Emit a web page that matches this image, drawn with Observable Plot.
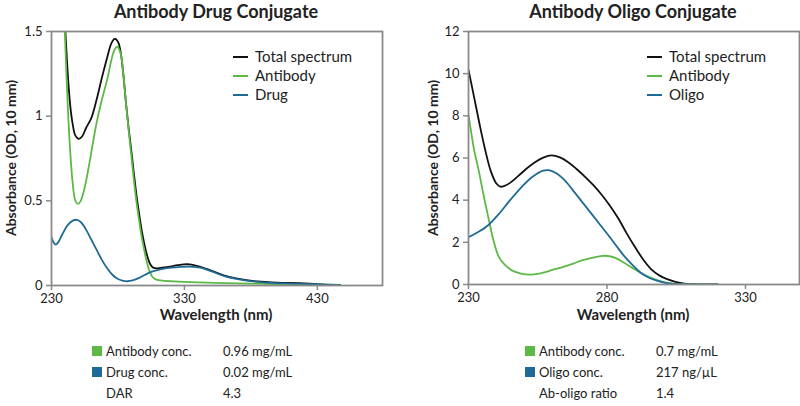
<!DOCTYPE html>
<html>
<head>
<meta charset="utf-8">
<script src="https://cdn.jsdelivr.net/npm/d3@7"></script>
<script src="https://cdn.jsdelivr.net/npm/@observablehq/plot@0.6"></script>
<style>
  body { margin: 0; background: #fff; font-family: Lato, "Open Sans", sans-serif; color: #222; }
  #wrap { position: relative; width: 800px; height: 406px; overflow: hidden; }
  .abs { position: absolute; white-space: nowrap; }
  .title { font-size: 18px; font-weight: 700; transform: translateX(-50%); }
  .xlab { font-size: 15px; font-weight: 700; transform: translateX(-50%); }
  .ylab { font-size: 14px; font-weight: 700; transform: translate(-50%, -50%) rotate(-90deg); }
  .leg { font-size: 15px; line-height: 19px; }
  .leg .row { display: flex; align-items: center; height: 19px; }
  .leg .sw { width: 15px; height: 2px; margin-right: 7px; }
  .tbl { font-size: 13px; }
  .tbl .row { position: relative; height: 21px; line-height: 21px; }
  .tbl .sq { position: absolute; width: 10px; height: 10px; top: 5px; }
</style>
</head>
<body>
<div id="wrap"></div>
<script>
// ---------- Data ----------
const adcTitle = "Antibody Drug Conjugate";
const aocTitle = "Antibody Oligo Conjugate";
const xLabel = "Wavelength (nm)";
const yLabel = "Absorbance (OD, 10 mm)";

const adcSeries = ["Total spectrum", "Antibody", "Drug"];
const aocSeries = ["Total spectrum", "Antibody", "Oligo"];
const seriesColors = ["#111111", "#5cb946", "#1f6a96"];

const adcXTicks = [230, 330, 430];
const adcYTicks = [0, 0.5, 1, 1.5];
const aocXTicks = [230, 280, 330];
const aocYTicks = [0, 2, 4, 6, 8, 10, 12];

// ADC spectra [wavelength nm, absorbance]
const adcTotal = [[236,2.3],[238,1.9],[240,1.56],[242,1.28],[244,1.07],[246,0.95],[248,0.885],[250.5,0.866],[253,0.88],[256,0.93],[260,0.99],[264,1.1],[268,1.23],[272,1.35],[275,1.43],[277.5,1.457],[280,1.44],[282,1.38],[284,1.25],[286,1.08],[288,0.93],[290,0.8],[292,0.66],[294,0.53],[296,0.42],[298,0.32],[300,0.24],[302,0.175],[304,0.13],[306,0.108],[308,0.102],[312,0.104],[318,0.11],[325,0.12],[332,0.126],[340,0.115],[350,0.088],[360,0.058],[370,0.04],[385,0.024],[400,0.017],[417,0.014],[430,0.008],[447,0.003]];
const adcAntibody = [[236,2.3],[238,1.85],[240,1.5],[242,1.1],[244,0.8],[246,0.6],[248,0.5],[250,0.482],[252,0.5],[255,0.58],[258,0.7],[262,0.88],[264.3,0.975],[268,1.1],[272,1.22],[275,1.33],[277,1.385],[279.5,1.41],[282,1.37],[284,1.25],[286,1.08],[288,0.92],[290,0.77],[292,0.62],[294,0.49],[296,0.38],[298,0.28],[300,0.2],[302,0.13],[304,0.08],[306,0.05],[308,0.038],[312,0.03],[322,0.024],[340,0.018],[360,0.014],[380,0.011],[400,0.009],[420,0.006],[445,0.004]];
const adcDrug = [[230,0.285],[231.5,0.255],[233,0.242],[235,0.255],[238,0.3],[242,0.355],[246,0.383],[249,0.388],[252,0.375],[256,0.33],[260,0.27],[264,0.21],[268,0.15],[272,0.1],[276,0.062],[280,0.038],[284,0.027],[287,0.025],[291,0.03],[296,0.045],[300,0.062],[305,0.08],[312,0.095],[320,0.105],[328,0.11],[334,0.112],[342,0.105],[350,0.085],[360,0.055],[370,0.038],[385,0.022],[400,0.014],[417,0.01],[430,0.006],[447,0.002]];

// AOC spectra
const aocTotal = [[230,10.18],[232,8.9],[234,7.6],[236,6.4],[238,5.4],[240,4.8],[241.5,4.64],[243,4.68],[245,4.82],[248,5.15],[251,5.5],[254,5.8],[257,6.02],[260,6.12],[263,6.03],[266,5.8],[269,5.48],[272,5.12],[275,4.72],[278,4.27],[281,3.75],[284,3.15],[287,2.45],[290,1.8],[293,1.2],[296,0.72],[299,0.42],[302,0.24],[305,0.11],[308,0.04],[312,0.01],[320,0]];
const aocAntibody = [[230,8.02],[231,7.2],[232,6.4],[233.7,5.4],[235.5,4.2],[237.4,3.04],[239,2.1],[241,1.3],[243,0.95],[245.8,0.66],[249,0.52],[252,0.47],[255,0.5],[258,0.6],[261.5,0.74],[264,0.82],[267.6,0.98],[271,1.14],[275,1.28],[278.4,1.36],[281,1.34],[283,1.26],[286,1.04],[289,0.8],[292,0.56],[295,0.36],[298,0.21],[301,0.1],[304,0.04],[308,0.01],[312,0],[320,0]];
const aocOligo = [[230,2.25],[233,2.45],[237,2.8],[241,3.35],[245,4.0],[249,4.6],[253,5.1],[257,5.4],[259,5.42],[262,5.25],[265,4.9],[268,4.42],[271,3.92],[274,3.42],[277,2.92],[280,2.42],[283,1.9],[286,1.38],[289,0.95],[292,0.58],[295,0.33],[298,0.18],[301,0.08],[304,0.03],[308,0.01],[312,0],[320,0]];

// Info tables
const adcInfoLabels = ["Antibody conc.", "Drug conc.", "DAR"];
const adcInfoValues = ["0.96 mg/mL", "0.02 mg/mL", "4.3"];
const aocInfoLabels = ["Antibody conc.", "Oligo conc.", "Ab-oligo ratio"];
const aocInfoValues = ["0.7 mg/mL", "217 ng/\u00b5L", "1.4"];
const infoColors = ["#5cb946", "#1f6a96", null];

// ---------- Drawing ----------
const wrap = document.getElementById("wrap");
const FONT = "Lato, 'Open Sans', sans-serif";

function toRows(arr, s) { return arr.map(([x, y]) => ({x, y, s})); }

function makePlot(cfg) {
  const data = cfg.series.flatMap((name, i) => toRows(cfg.values[i], name));
  const p = Plot.plot({
    width: 400, height: 330,
    marginLeft: cfg.ml, marginRight: cfg.mr, marginTop: 31, marginBottom: cfg.mb,
    style: {fontFamily: FONT, fontSize: "13px", color: "#222", background: "transparent", overflow: "visible"},
    x: {domain: cfg.xDomain},
    y: {domain: cfg.yDomain},
    color: {domain: cfg.series, range: seriesColors},
    marks: [
      Plot.axisX({ticks: cfg.xTicks, tickSize: 5, tickPadding: 3, stroke: "#8a8a8a", strokeWidth: 1.5, fill: "#222", label: null, fontSize: 13}),
      Plot.axisY({ticks: cfg.yTicks, tickSize: 5, tickPadding: 4, stroke: "#8a8a8a", strokeWidth: 1.5, fill: "#222", label: null, fontSize: 13, tickFormat: d => String(d)}),
      Plot.line(data, {x: "x", y: "y", z: "s", stroke: "s", strokeWidth: 1.8, curve: "catmull-rom", clip: true}),
      Plot.frame({stroke: "#8a8a8a", strokeWidth: 1.8})
    ]
  });
  p.style.position = "absolute";
  p.style.left = cfg.left + "px";
  p.style.top = "0px";
  wrap.appendChild(p);
}

function addText(cls, text, left, top) {
  const d = document.createElement("div");
  d.className = "abs " + cls;
  d.textContent = text;
  d.style.left = left + "px";
  d.style.top = top + "px";
  wrap.appendChild(d);
  return d;
}

function addLegend(series, left, top) {
  const d = document.createElement("div");
  d.className = "abs leg";
  d.style.left = left + "px";
  d.style.top = top + "px";
  series.forEach((s, i) => {
    const r = document.createElement("div");
    r.className = "row";
    const sw = document.createElement("span");
    sw.className = "sw";
    sw.style.background = seriesColors[i];
    const t = document.createElement("span");
    t.textContent = s;
    r.appendChild(sw); r.appendChild(t);
    d.appendChild(r);
  });
  wrap.appendChild(d);
}

function addTable(labels, values, left, top, valOffset) {
  const d = document.createElement("div");
  d.className = "abs tbl";
  d.style.left = left + "px";
  d.style.top = top + "px";
  d.style.width = "260px";
  labels.forEach((l, i) => {
    const r = document.createElement("div");
    r.className = "row";
    if (infoColors[i]) {
      const sq = document.createElement("span");
      sq.className = "sq";
      sq.style.left = "0px";
      sq.style.background = infoColors[i];
      r.appendChild(sq);
    }
    const a = document.createElement("span");
    a.textContent = l;
    a.style.position = "absolute"; a.style.left = "14px";
    const b = document.createElement("span");
    b.textContent = values[i];
    b.style.position = "absolute"; b.style.left = valOffset + "px";
    r.appendChild(a); r.appendChild(b);
    d.appendChild(r);
  });
  wrap.appendChild(d);
}

makePlot({left: 0, ml: 51, mr: 18, mb: 45, xDomain: [230, 479], yDomain: [0, 1.5],
  xTicks: adcXTicks, yTicks: adcYTicks, series: adcSeries, values: [adcTotal, adcAntibody, adcDrug]});
makePlot({left: 400, ml: 68, mr: 1, mb: 46, xDomain: [230, 349.5], yDomain: [0, 12],
  xTicks: aocXTicks, yTicks: aocYTicks, series: aocSeries, values: [aocTotal, aocAntibody, aocOligo]});

addText("title", adcTitle, 216, 0);
addText("title", aocTitle, 633, 0);
addText("xlab", xLabel, 216, 305);
addText("xlab", xLabel, 633, 305);
addText("ylab", yLabel, 10, 158);
addText("ylab", yLabel, 432, 158);
addLegend(adcSeries, 233, 47);
addLegend(aocSeries, 647, 47);
addTable(adcInfoLabels, adcInfoValues, 92, 341, 131);
addTable(aocInfoLabels, aocInfoValues, 525, 341, 131);
</script>
</body>
</html>
